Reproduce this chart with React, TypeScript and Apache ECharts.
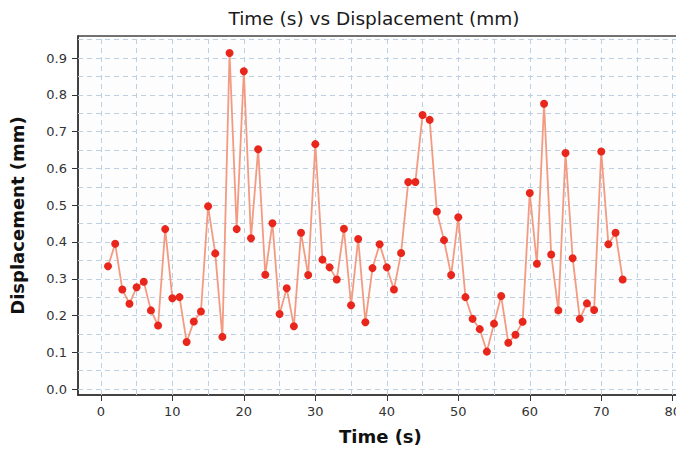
import React, { useEffect, useRef } from "react";
import * as echarts from "echarts";

const times = [
  1, 2, 3, 4, 5, 6, 7, 8, 9, 10, 11, 12, 13, 14, 15, 16, 17, 18, 19, 20,
  21, 22, 23, 24, 25, 26, 27, 28, 29, 30, 31, 32, 33, 34, 35, 36, 37, 38, 39, 40,
  41, 42, 43, 44, 45, 46, 47, 48, 49, 50, 51, 52, 53, 54, 55, 56, 57, 58, 59, 60,
  61, 62, 63, 64, 65, 66, 67, 68, 69, 70, 71, 72, 73,
];
const displacement = [
  0.334, 0.395, 0.271, 0.232, 0.277, 0.292, 0.214, 0.173, 0.435, 0.247,
  0.25, 0.128, 0.184, 0.211, 0.497, 0.369, 0.142, 0.914, 0.435, 0.864,
  0.41, 0.652, 0.311, 0.451, 0.204, 0.274, 0.171, 0.425, 0.31, 0.666,
  0.352, 0.331, 0.298, 0.436, 0.228, 0.408, 0.182, 0.329, 0.394, 0.331,
  0.271, 0.37, 0.563, 0.563, 0.745, 0.732, 0.483, 0.405, 0.31, 0.467,
  0.25, 0.191, 0.163, 0.102, 0.178, 0.253, 0.126, 0.148, 0.183, 0.533,
  0.341, 0.776, 0.366, 0.214, 0.642, 0.356, 0.191, 0.233, 0.215, 0.646,
  0.394, 0.425, 0.298,
];
const xTickLabels = [0, 10, 20, 30, 40, 50, 60, 70, 80];
const yTickLabels = [0, 0.1, 0.2, 0.3, 0.4, 0.5, 0.6, 0.7, 0.8, 0.9];
const xGridValues = [0, 5, 10, 15, 20, 25, 30, 35, 40, 45, 50, 55, 60, 65, 70, 75, 80];
const yGridValues = [0, 0.05, 0.1, 0.15, 0.2, 0.25, 0.3, 0.35, 0.4, 0.45, 0.5, 0.55, 0.6, 0.65, 0.7, 0.75, 0.8, 0.85, 0.9, 0.95];

const FONT = "DejaVu Sans";

export default function App() {
  const ref = useRef<HTMLDivElement>(null);
  useEffect(() => {
    if (!ref.current) return;
    const chart = echarts.init(ref.current, null, { renderer: "svg" });
    const gridStyle = { type: [5, 4] as any, color: "#bcd0e2", width: 1 };
    chart.setOption({
      animation: false,
      backgroundColor: "#ffffff",
      title: {
        text: "Time (s) vs Displacement (mm)",
        left: 369,
        textAlign: "center",
        top: 4,
        textStyle: { fontFamily: FONT, fontSize: 18.5, fontWeight: "normal", color: "#1a1a1a" },
      },
      grid: {
        left: 78,
        top: 36,
        right: -5,
        bottom: 64,
        show: true,
        borderColor: "#444",
        borderWidth: 1.5,
        backgroundColor: "#fdfdfd",
      },
      xAxis: {
        type: "value",
        min: -3.2,
        max: 81.4,
        name: "Time (s)",
        nameLocation: "middle",
        nameGap: 32,
        nameTextStyle: { fontFamily: FONT, fontSize: 18, fontWeight: "bold", color: "#111" },
        axisLine: { show: true, onZero: false, lineStyle: { color: "#333", width: 1.5 } },
        axisTick: { show: true, length: 6, customValues: xTickLabels, lineStyle: { color: "#333" } },
        axisLabel: { customValues: xTickLabels, fontFamily: FONT, fontSize: 13, color: "#333", margin: 10 },
        splitLine: { show: false },
      },
      yAxis: {
        type: "value",
        min: -0.016,
        max: 0.96,
        name: "Displacement (mm)",
        nameLocation: "middle",
        nameGap: 52,
        nameTextStyle: { fontFamily: FONT, fontSize: 18, fontWeight: "bold", color: "#111" },
        axisLine: { show: true, onZero: false, lineStyle: { color: "#333", width: 1.5 } },
        axisTick: { show: true, length: 6, customValues: yTickLabels, lineStyle: { color: "#333" } },
        axisLabel: {
          customValues: yTickLabels,
          fontFamily: FONT,
          fontSize: 13,
          color: "#333",
          margin: 11,
          formatter: (v: number) => v.toFixed(1),
        },
        splitLine: { show: false },
      },
      series: [
        {
          type: "line",
          data: [],
          z: 1,
          silent: true,
          markLine: {
            z: 1,
            silent: true,
            symbol: ["none", "none"],
            label: { show: false },
            lineStyle: gridStyle,
            emphasis: { disabled: true },
            data: [
              ...xGridValues.map((v) => ({ xAxis: v })),
              ...yGridValues.map((v) => ({ yAxis: v })),
            ],
          },
        },
        {
          type: "line",
          z: 10,
          data: times.map((t, i) => [t, displacement[i]]),
          symbol: "circle",
          symbolSize: 8,
          showAllSymbol: true,
          lineStyle: { color: "#f39b82", width: 1.8 },
          itemStyle: { color: "#e8261c" },
        },
      ],
    });
    return () => chart.dispose();
  }, []);
  return <div ref={ref} style={{ width: 684, height: 459, margin: -8 }} />;
}
